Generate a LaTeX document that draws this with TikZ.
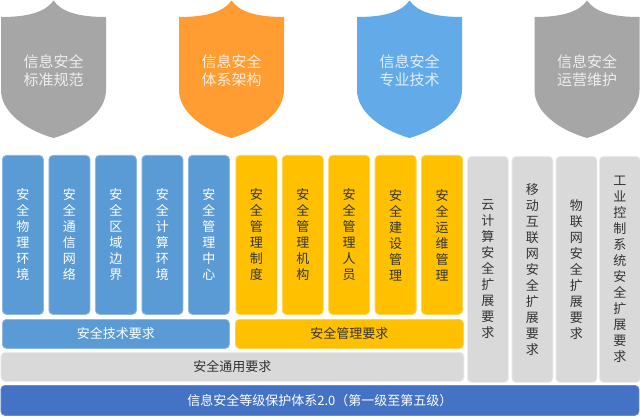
\documentclass[tikz,border=0pt]{standalone}
\usepackage{fontspec}
\setmainfont{Noto Sans CJK SC}
\definecolor{shgray}{HTML}{A6A6A6}
\definecolor{shorange}{HTML}{FF9D33}
\definecolor{shblue}{HTML}{63AAE9}
\definecolor{colblue}{HTML}{5B9BD5}
\definecolor{colorange}{HTML}{FFC000}
\definecolor{colgray}{HTML}{D9D9D9}
\definecolor{barblue}{HTML}{4472C4}
\definecolor{txt}{HTML}{333333}
\tikzset{
 col/.style={rectangle, rounded corners=4pt, minimum width=41pt, anchor=north west, inner sep=0pt, line width=0.8pt, align=center, font=\fontsize{13}{16}\selectfont},
 bcol/.style={col, fill=colblue, draw=colblue!70!white, text=white, minimum height=159pt},
 ocol/.style={col, fill=colorange, draw=colorange!70!white, text=txt, minimum height=159pt},
 gcol/.style={col, fill=colgray, draw=colgray!50!white, text=txt, minimum height=226pt},
 bar/.style={rectangle, rounded corners=4pt, anchor=north west, inner sep=0pt, line width=0.8pt, font=\fontsize{13}{16}\selectfont},
 shieldtxt/.style={align=center, font=\fontsize{15}{18}\selectfont, text=white, text opacity=0.8},
 shield/.pic={
   \path[fill=#1] (-52.5,17) .. controls (-25,17) and (-8,12) .. (0,0.5)
     .. controls (8,12) and (25,17) .. (52.5,17) -- (52.5,90)
     .. controls (52.5,112) and (28,130) .. (0,138)
     .. controls (-28,130) and (-52.5,112) .. (-52.5,90) -- cycle;
 }
}
\begin{document}
\begin{tikzpicture}[x=1pt,y=-1pt]
\useasboundingbox (0,0) rectangle (640,417);
% shields
\pic at (53.5,0) {shield=shgray};
\pic at (231.5,0) {shield=shorange};
\pic at (409.5,0) {shield=shblue};
\pic at (587,0) {shield=shgray};
\node[shieldtxt] (s1) at (53.5,70.5) {信息安全\\标准规范};
\node[shieldtxt] (s2) at (231.5,70.5) {信息安全\\体系架构};
\node[shieldtxt] (s3) at (409.5,70.5) {信息安全\\专业技术};
\node[shieldtxt] (s4) at (587,70.5) {信息安全\\运营维护};
% blue columns
\node[bcol] (b1) at (2,155) {安\\全\\物\\理\\环\\境};
\node[bcol] (b2) at (48.5,155) {安\\全\\通\\信\\网\\络};
\node[bcol] (b3) at (95,155) {安\\全\\区\\域\\边\\界};
\node[bcol] (b4) at (141.5,155) {安\\全\\计\\算\\环\\境};
\node[bcol] (b5) at (188,155) {安\\全\\管\\理\\中\\心};
% orange columns
\node[ocol] (o1) at (235.5,155) {安\\全\\管\\理\\制\\度};
\node[ocol] (o2) at (281.9,155) {安\\全\\管\\理\\机\\构};
\node[ocol] (o3) at (328.3,155) {安\\全\\管\\理\\人\\员};
\node[ocol] (o4) at (374.7,155) {安\\全\\建\\设\\管\\理};
\node[ocol] (o5) at (421.1,155) {安\\全\\运\\维\\管\\理};
% gray columns
\node[gcol] (g1) at (467,156) {云\\计\\算\\安\\全\\扩\\展\\要\\求};
\node[gcol] (g2) at (511.5,156) {移\\动\\互\\联\\网\\安\\全\\扩\\展\\要\\求};
\node[gcol] (g3) at (555.5,156) {物\\联\\网\\安\\全\\扩\\展\\要\\求};
\node[gcol] (g4) at (599,156) {工\\业\\控\\制\\系\\统\\安\\全\\扩\\展\\要\\求};
% bars
\node[bar, fill=colblue, draw=colblue!70!white, text=white, minimum width=227pt, minimum height=29pt] (tech) at (2,319) {安全技术要求};
\node[bar, fill=colorange, draw=colorange!70!white, text=txt, minimum width=228pt, minimum height=29pt] (mgmt) at (235,319) {安全管理要求};
\node[bar, fill=colgray, draw=colgray!50!white, text=txt, minimum width=463pt, minimum height=29pt] (gen) at (0.5,352) {安全通用要求};
\node[bar, fill=barblue, draw=barblue!80!white, text=white, minimum width=638pt, minimum height=30pt] (base) at (0.5,385) {信息安全等级保护体系2.0（第一级至第五级）};
\end{tikzpicture}
\end{document}
